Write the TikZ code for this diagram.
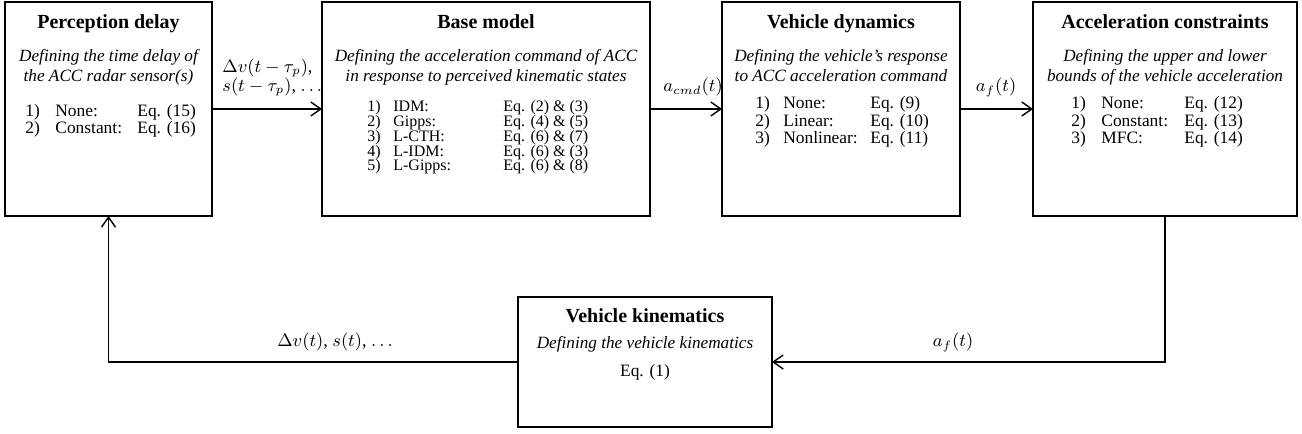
\documentclass[tikz,border=0pt]{standalone}
\usepackage{fontspec}
\setmainfont{Liberation Serif}
\usetikzlibrary{arrows.meta}

\newcommand{\twolines}[2]{\begin{tabular}[t]{@{}c@{}}#1\\#2\end{tabular}}
\newcommand{\eqrowtext}[5]{\makebox[#1][l]{#3}\makebox[#2][l]{#4}#5}

\tikzset{
  block/.style={draw, line width=0.9pt, outer sep=0pt, inner sep=0pt, minimum height=107pt},
  flow/.style={-{Straight Barb[length=5pt,width=7pt]}, line width=0.7pt},
  blocktitle/.style={anchor=base, inner sep=0pt, font=\fontsize{10}{12}\selectfont\bfseries},
  desc/.style={anchor=base, inner sep=0pt, font=\fontsize{8.6}{10}\selectfont\itshape},
  eqrow/.style={anchor=base west, inner sep=0pt, font=\fontsize{8.7}{10}\selectfont},
  sig/.style={anchor=base, inner sep=0pt, font=\fontsize{9}{9}\selectfont},
}

\begin{document}
\begin{tikzpicture}[x=0.5pt,y=0.5pt]
  \useasboundingbox (0,0) rectangle (1302,434);

  % blocks
  \node[block, minimum width=103.5pt] (pd) at (108.5,325) {};
  \node[block, minimum width=164pt] (bm) at (486,325) {};
  \node[block, minimum width=119pt] (vd) at (841,325) {};
  \node[block, minimum width=132pt] (ac) at (1165,325) {};
  \node[block, minimum width=127pt, minimum height=65pt] (vk) at (645,72) {};

  % perception delay
  \node[blocktitle] (pd-t) at ([yshift=-13.5pt]pd.north) {Perception delay};
  \node[desc] (pd-d) at ([yshift=-30pt]pd.north)
    {\twolines{Defining the time delay of}{the ACC radar sensor(s)}};
  \foreach \n/\m/\e [count=\i from 0] in {1)/None:/Eq. (15), 2)/Constant:/Eq. (16)}
    \node[eqrow] (pd-l\i) at ([xshift=10pt,yshift=-57.5pt-\i*8.5pt]pd.north west)
      {\eqrowtext{15pt}{41pt}{\n}{\m}{\e}};

  % base model
  \node[blocktitle] (bm-t) at ([yshift=-13.5pt]bm.north) {Base model};
  \node[desc] (bm-d) at ([yshift=-30pt]bm.north)
    {\twolines{Defining the acceleration command of ACC}{in response to perceived kinematic states}};
  \foreach \n/\m/\e [count=\i from 0] in {1)/IDM:/Eq. (2) \& (3), 2)/Gipps:/Eq. (4) \& (5),
      3)/L-CTH:/Eq. (6) \& (7), 4)/L-IDM:/Eq. (6) \& (3), 5)/L-Gipps:/Eq. (6) \& (8)}
    \node[eqrow, font=\fontsize{8}{10}\selectfont] (bm-l\i)
      at ([xshift=22.5pt,yshift=-55pt-\i*7.35pt]bm.north west)
      {\eqrowtext{13pt}{55pt}{\n}{\m}{\e}};

  % vehicle dynamics
  \node[blocktitle] (vd-t) at ([yshift=-13.5pt]vd.north) {Vehicle dynamics};
  \node[desc] (vd-d) at ([yshift=-30pt]vd.north)
    {\twolines{Defining the vehicle’s response}{to ACC acceleration command}};
  \foreach \n/\m/\e [count=\i from 0] in {1)/None:/Eq. (9), 2)/Linear:/Eq. (10), 3)/Nonlinear:/Eq. (11)}
    \node[eqrow] (vd-l\i) at ([xshift=16.5pt,yshift=-53.5pt-\i*8.75pt]vd.north west)
      {\eqrowtext{14pt}{43.5pt}{\n}{\m}{\e}};

  % acceleration constraints
  \node[blocktitle] (ac-t) at ([yshift=-13.5pt]ac.north) {Acceleration\ constraints};
  \node[desc] (ac-d) at ([yshift=-30pt]ac.north)
    {\twolines{Defining the upper and lower}{bounds of the vehicle acceleration}};
  \foreach \n/\m/\e [count=\i from 0] in {1)/None:/Eq. (12), 2)/Constant:/Eq. (13), 3)/MFC:/Eq. (14)}
    \node[eqrow] (ac-l\i) at ([xshift=19pt,yshift=-53.5pt-\i*8.75pt]ac.north west)
      {\eqrowtext{15pt}{41.5pt}{\n}{\m}{\e}};

  % vehicle kinematics
  \node[blocktitle] (vk-t) at ([yshift=-13pt]vk.north) {Vehicle kinematics};
  \node[desc] (vk-d) at ([yshift=-26pt]vk.north) {Defining the vehicle kinematics};
  \node[eqrow, anchor=base] (vk-e) at ([yshift=-40pt]vk.north) {Eq. (1)};

  % signals
  \draw[flow] (pd) -- (bm);
  \draw[flow] (bm) -- (vd);
  \draw[flow] (vd) -- (ac);
  \draw[flow] (ac.south) |- (vk.east);
  \draw[flow] (vk.west) -| (pd.south);

  \node[sig, anchor=base west] (s-pd) at (222,361)
    {\begin{tabular}[t]{@{}l@{}}$\Delta v(t-\tau_p)$,\\ $s(t-\tau_p)$, $\ldots$\end{tabular}};
  \node[sig] (s-bm) at (693,342) {$a_{cmd}(t)$};
  \node[sig] (s-vd) at (996,342) {$a_f(t)$};
  \node[sig] (s-ac) at (953,87) {$a_f(t)$};
  \node[sig] (s-vk) at (335,87) {$\Delta v(t)$, $s(t)$, $\ldots$};
\end{tikzpicture}
\end{document}
